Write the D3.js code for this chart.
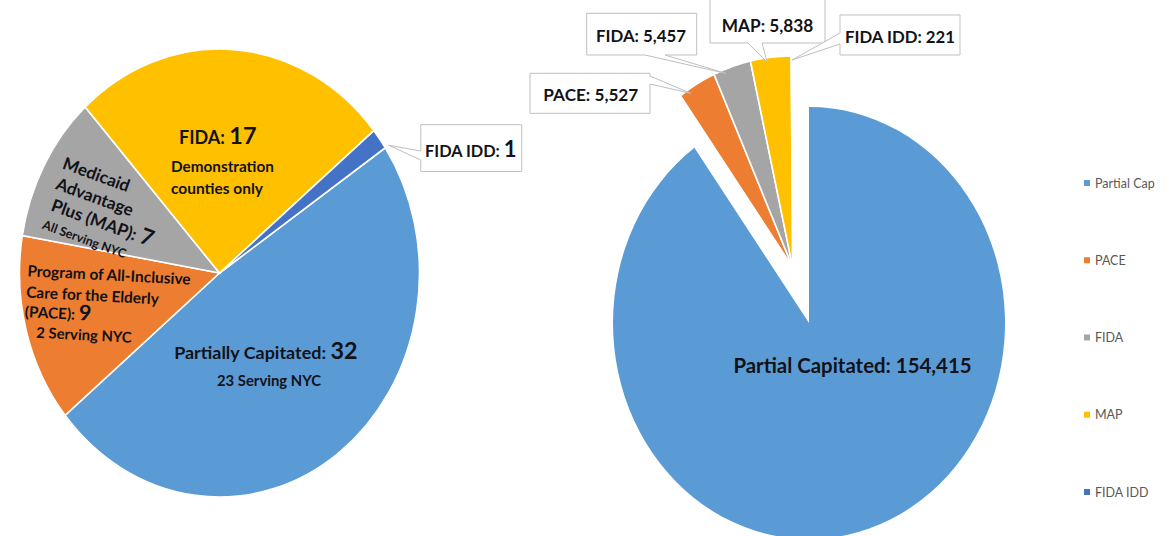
<!DOCTYPE html>
<html><head><meta charset="utf-8">
<script src="https://cdn.jsdelivr.net/npm/d3@7"></script>
<style>html,body{margin:0;padding:0;background:#fff;} svg{display:block;} text{font-family:Lato,"Open Sans",sans-serif;}</style>
</head><body><svg id="c" width="1170" height="536"></svg>
<script>
// ---- data ----
const leftCategories = ["Partially Capitated", "PACE", "MAP", "FIDA", "FIDA IDD"];
const leftPlanCounts = [32, 9, 7, 17, 1];
const rightCategories = ["Partial Cap", "PACE", "FIDA", "MAP", "FIDA IDD"];
const rightLabelNames = ["Partial Capitated", "PACE", "FIDA", "MAP", "FIDA IDD"];
const rightEnrollment = [154415, 5527, 5457, 5838, 221];
const sliceColors = ["#5B9BD5", "#ED7D31", "#A5A5A5", "#FFC000", "#4472C4"];

const svg = d3.select("#c");
const textColor = "#121218";
const fmt = d3.format(",");
const deg = Math.PI / 180;

// text line helper: fits font size to a target width
function line(parent, o) {
  const g = parent.append("g").attr("transform", `translate(${o.x},${o.y}) rotate(${o.rot || 0})`);
  const t = g.append("text").attr("text-anchor", o.anchor || "middle")
    .attr("font-weight", o.weight || 700).attr("fill", o.fill || textColor);
  o.parts.forEach(p => t.append("tspan").text(p[0]).attr("data-rel", p[1]));
  const apply = s => {
    t.attr("font-size", s);
    t.selectAll("tspan").attr("font-size", function () { return s * +this.getAttribute("data-rel"); });
    if (o.center) t.attr("y", 0.35 * s);
  };
  apply(o.size);
  if (o.w) { const len = t.node().getComputedTextLength(); apply(o.size * o.w / len); }
  return t;
}

// callout box with wedge
function callout(o) {
  const [x0, y0, x1, y1] = o.box, [tx, ty] = o.tip, b = o.base;
  let p = `M${x0},${y0}H${x1}`;
  if (o.side === "right") p += `V${b[0]}L${tx},${ty}L${x1},${b[1]}`;
  p += `V${y1}`;
  if (o.side === "bottom") p += `H${b[1]}L${tx},${ty}L${b[0]},${y1}`;
  p += `H${x0}`;
  if (o.side === "left") p += `V${b[1]}L${tx},${ty}L${x0},${b[0]}`;
  p += "Z";
  svg.append("path").attr("d", p).attr("fill", "#fff").attr("stroke", "#bfbfbf").attr("stroke-width", 1);
}

// ---- left pie: number of plans ----
const L = { cx: 219.5, cy: 273, r: 200, sy: 1.12, start: 56 * deg };
const leftPie = d3.pie().sort(null).startAngle(L.start).endAngle(L.start + 2 * Math.PI);
const leftArcs = leftPie(leftPlanCounts);
const arcL = d3.arc().innerRadius(0).outerRadius(L.r);
svg.append("g").attr("transform", `translate(${L.cx},${L.cy}) scale(1,${L.sy})`)
  .selectAll("path").data(leftArcs).join("path")
  .attr("d", arcL).attr("fill", (d, i) => sliceColors[i])
  .attr("stroke", "#fff").attr("stroke-width", 1.6).attr("vector-effect", "non-scaling-stroke");

const lbl = svg.append("g");
// Partially Capitated
line(lbl, { x: 265.8, y: 358.5, w: 183.5, size: 18, parts: [[leftCategories[0] + ": ", 1], [String(leftPlanCounts[0]), 1.3]] });
line(lbl, { x: 269, y: 386, w: 104, size: 15, parts: [["23 Serving NYC", 1]] });
// PACE
line(lbl, { x: 109, y: 275, w: 163.5, size: 15, rot: 3, center: true, parts: [["Program of All-Inclusive", 1]] });
line(lbl, { x: 92.5, y: 295.5, w: 133, size: 15, rot: 3, center: true, parts: [["Care for the Elderly", 1]] });
line(lbl, { x: 58, y: 313.5, w: 66.5, size: 15, rot: 3, center: true, parts: [["(" + leftCategories[1] + "): ", 1], [String(leftPlanCounts[1]), 1.4]] });
line(lbl, { x: 84, y: 335, w: 95.5, size: 15, rot: 3, center: true, parts: [["2 Serving NYC", 1]] });
// MAP
line(lbl, { x: 96.4, y: 174.6, w: 70, size: 18, rot: 20, center: true, parts: [["Medicaid", 1]] });
line(lbl, { x: 94.7, y: 197, w: 81, size: 18, rot: 20, center: true, parts: [["Advantage", 1]] });
line(lbl, { x: 102.3, y: 222.8, w: 107, size: 18, rot: 20, center: true, parts: [["Plus (" + leftCategories[2] + "): ", 1], [String(leftPlanCounts[2]), 1.3]] });
line(lbl, { x: 84.4, y: 239.3, w: 88, size: 13, rot: 20, center: true, weight: 700, parts: [["All Serving NYC", 1]] });
// FIDA
line(lbl, { x: 179, y: 144, w: 77.5, size: 19, anchor: "start", parts: [[leftCategories[3] + ": ", 1], [String(leftPlanCounts[3]), 1.3]] });
line(lbl, { x: 171, y: 172, w: 103, size: 15, anchor: "start", parts: [["Demonstration", 1]] });
line(lbl, { x: 171, y: 194, w: 92, size: 15, anchor: "start", parts: [["counties only", 1]] });

// FIDA IDD callout (left)
{
  const a = leftArcs[4].endAngle, rr = L.r * 1.02;
  const tip = [L.cx + Math.sin(a) * rr, L.cy - Math.cos(a) * rr * L.sy];
  callout({ box: [420.8, 124.7, 521.7, 171.5], side: "left", base: [151, 160], tip });
  line(svg, { x: 470.8, y: 156.7, w: 91.5, size: 17, parts: [[leftCategories[4] + ": ", 1], [String(leftPlanCounts[4]), 1.35]] });
}

// ---- right pie: enrollment ----
const R = { cx: 809, cy: 323, r: 196, sy: 1.102, explode: 53, rSmall: 192 };
const rightPie = d3.pie().sort(null);
const rightArcs = rightPie(rightEnrollment);
const arcBig = d3.arc().innerRadius(0).outerRadius(R.r);
const arcSmall = d3.arc().innerRadius(0).outerRadius(R.rSmall);
const exMid = (rightArcs[1].startAngle + rightArcs[4].endAngle) / 2;
const ex = [Math.sin(exMid) * R.explode, -Math.cos(exMid) * R.explode];
const gR = svg.append("g").attr("transform", `translate(${R.cx},${R.cy}) scale(1,${R.sy})`);
gR.selectAll("path").data(rightArcs).join("path")
  .attr("d", (d, i) => i === 0 ? arcBig(d) : arcSmall(d))
  .attr("transform", (d, i) => i === 0 ? null : `translate(${ex[0]},${ex[1]})`)
  .attr("fill", (d, i) => sliceColors[i])
  .attr("stroke", "#fff").attr("stroke-width", (d, i) => i === 0 ? 0 : 1.6)
  .attr("vector-effect", "non-scaling-stroke");

line(svg, { x: 852.5, y: 373, w: 238.4, size: 20, parts: [[rightLabelNames[0] + ": " + fmt(rightEnrollment[0]), 1]] });

const calloutLayout = [
  null,
  { box: [530, 73.3, 650, 113.3], side: "right", base: [76, 84], frac: 0.25, tx: 590.8, ty: 100.7, w: 95 },
  { box: [586.7, 13.3, 696.7, 55], side: "bottom", base: [645, 665], frac: 0.3, tx: 641, ty: 42, w: 90 },
  { box: [710, -2, 825, 43], side: "bottom", base: [748, 762], frac: 0.4, tx: 767.5, ty: 32, w: 91.6 },
  { box: [840, 15, 960, 55], side: "left", base: [33, 44], frac: 0.5, tx: 900, ty: 43, w: 110 }
];
calloutLayout.forEach((c, i) => {
  if (!c) return;
  const d = rightArcs[i];
  const a = d.startAngle + c.frac * (d.endAngle - d.startAngle), rr = R.rSmall * 0.98;
  const tip = [R.cx + (ex[0] + Math.sin(a) * rr), R.cy + (ex[1] - Math.cos(a) * rr) * R.sy];
  callout({ box: c.box, side: c.side, base: c.base, tip });
  line(svg, { x: c.tx, y: c.ty, w: c.w, size: 17, parts: [[rightLabelNames[i] + ": " + fmt(rightEnrollment[i]), 1]] });
});

// ---- legend ----
const ly = d3.scalePoint().domain(rightCategories).range([183, 492]);
const lg = svg.append("g").selectAll("g").data(rightCategories).join("g")
  .attr("transform", d => `translate(1084,${ly(d)})`);
lg.append("rect").attr("x", 0).attr("y", -3).attr("width", 6).attr("height", 6)
  .attr("fill", (d, i) => sliceColors[i]);
lg.append("text").attr("x", 11).attr("y", 4.5).attr("font-size", 12.5)
  .attr("fill", "#595959").text(d => d);
</script></body></html>
